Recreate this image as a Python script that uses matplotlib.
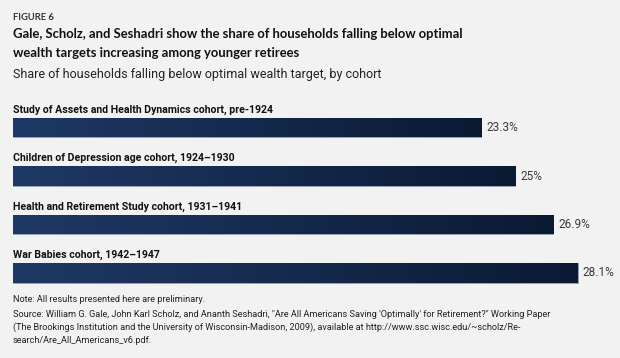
import numpy as np
import matplotlib
matplotlib.use('Agg')
import matplotlib.pyplot as plt
from matplotlib.colors import LinearSegmentedColormap

# Data
cohorts = ['Study of Assets and Health Dynamics cohort, pre-1924',
           'Children of Depression age cohort, 1924\u20131930',
           'Health and Retirement Study cohort, 1931\u20131941',
           'War Babies cohort, 1942\u20131947']
shares = [23.3, 25.0, 26.9, 28.1]
value_labels = ['23.3%', '25%', '26.9%', '28.1%']

W, H = 620, 358
bg = '#f2f2f2'
narrow = ['Roboto', 'DejaVu Sans']
wide = ['Lato', 'DejaVu Sans']

fig = plt.figure(figsize=(W / 100, H / 100), dpi=100, facecolor=bg)

def px(x, y):
    return x / W, 1 - y / H

# Axes placed so that 0 sits at x=13 px, 20.09 px per unit
left, right = 13, 620
top_px, bot_px = 93.55, 297.25
ax = fig.add_axes([left / W, 1 - bot_px / H, (right - left) / W, (bot_px - top_px) / H])
ax.set_facecolor(bg)
ax.axis('off')

cmap = LinearSegmentedColormap.from_list('bar', ['#1f3966', '#0b1a33'])
grad = np.linspace(0, 1, 256).reshape(1, -1)
ypos = np.arange(len(cohorts))
bh = 0.40
bars = ax.barh(ypos, shares, height=bh, color='#1a2e52', edgecolor='#9aa6b8', linewidth=0.6)
for b, v, lab, name, y in zip(bars, shares, value_labels, cohorts, ypos):
    im = ax.imshow(grad, cmap=cmap, aspect='auto', extent=[0, v, y + bh / 2, y - bh / 2],
                   zorder=b.get_zorder() + 0.1, interpolation='bicubic')
    im.set_clip_path(b)
    ax.text(v + 0.25, y, lab, va='center', ha='left', fontsize=8.5,
            color='#3a3a3a', family=narrow)
    ax.text(0, y - 0.31, name, va='baseline', ha='left', fontsize=7.6,
            fontweight='bold', color='#111111', family=narrow)
ax.set_xlim(0, (right - left) / 20.09)
ax.set_ylim(3.5, -0.7)

# Titles
fig.text(*px(13, 20), 'FIGURE 6', fontsize=6.8, fontweight='bold', color='#333333',
         family=wide, va='baseline')
fig.text(*px(13, 38), 'Gale, Scholz, and Seshadri show the share of households falling below optimal',
         fontsize=9.4, fontweight='bold', color='#111111', family=wide, va='baseline')
fig.text(*px(13, 57), 'wealth targets increasing among younger retirees',
         fontsize=9.4, fontweight='bold', color='#111111', family=wide, va='baseline')
fig.text(*px(13, 78), 'Share of households falling below optimal wealth target, by cohort',
         fontsize=9, color='#222222', family=narrow, va='baseline')

# Notes
fig.text(*px(13, 302), 'Note: All results presented here are preliminary.',
         fontsize=6.6, color='#222222', family=narrow, va='baseline')
source = ('Source: William G. Gale, John Karl Scholz, and Ananth Seshadri, "Are All Americans Saving \'Optimally\' for Retirement?" Working Paper',
          '(The Brookings Institution and the University of Wisconsin-Madison, 2009), available at http://www.ssc.wisc.edu/~scholz/Re-',
          'search/Are_All_Americans_v6.pdf.')
for i, line in enumerate(source):
    fig.text(*px(13, 317 + 13 * i), line, fontsize=6.6, color='#222222',
             family=narrow, va='baseline')

fig.savefig('out.png', dpi=100, facecolor=bg)
